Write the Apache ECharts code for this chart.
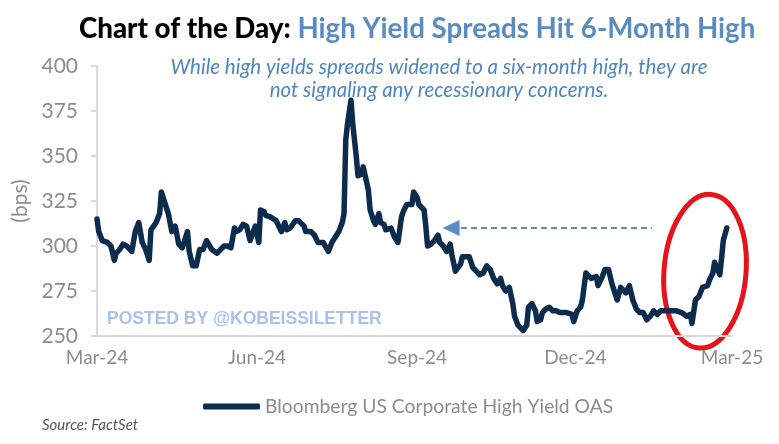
<!DOCTYPE html>
<html>
<head>
<meta charset="utf-8">
<script src="https://cdn.jsdelivr.net/npm/echarts@6/dist/echarts.min.js"></script>
<style>
  html, body { margin: 0; padding: 0; background: #fff; }
  #chart { width: 779px; height: 444px; }
</style>
</head>
<body>
<div id="chart"></div>
<script>
// days since 1 Mar 2024
const dayOffsets = [
  0, 1, 3, 6, 8, 10, 11, 13, 15, 17, 20, 21, 22, 24, 26, 28, 30, 31, 34, 36,
  37, 39, 41, 43, 45, 47, 49, 50, 52, 53, 55, 57, 59, 61, 63, 66, 69, 71, 73, 75,
  77, 79, 80, 82, 84, 86, 88, 89, 91, 93, 94, 96, 97, 100, 103, 106, 108, 109, 111, 114,
  116, 119, 120, 123, 125, 127, 128, 130, 133, 135, 137, 139, 141, 142, 143, 144, 146, 147, 149, 150,
  152, 153, 154, 156, 157, 159, 160, 162, 163, 165, 166, 169, 171, 173, 174, 175, 176, 178, 179, 181,
  182, 184, 185, 188, 189, 190, 192, 194, 196, 197, 199, 201, 203, 204, 206, 207, 209, 210, 212, 214,
  216, 218, 220, 222, 224, 226, 228, 230, 232, 233, 235, 237, 239, 240, 242, 243, 245, 247, 248, 250,
  252, 253, 255, 256, 258, 260, 262, 264, 266, 270, 273, 274, 276, 278, 279, 281, 282, 284, 287, 288,
  290, 292, 294, 296, 298, 299, 301, 302, 304, 306, 308, 310, 312, 314, 316, 318, 320, 322, 324, 325,
  327, 330, 333, 336, 339, 341, 342, 344, 346, 347, 348, 351, 352, 354, 355, 356, 358, 359, 360, 362
];

// Bloomberg US Corporate High Yield OAS, bps
const oasBps = [
  315, 308, 303, 302, 300, 292, 296, 298, 301, 300, 297, 297, 308, 313, 302, 298, 292, 309, 313, 318,
  330, 324, 318, 308, 311, 301, 299, 302, 308, 297, 289, 289, 298, 298, 303, 298, 296, 298, 300, 300,
  299, 310, 308, 309, 312, 311, 303, 304, 311, 302, 320, 319, 317, 316, 314, 308, 313, 309, 310, 314,
  314, 311, 308, 308, 306, 302, 303, 302, 297, 302, 305, 308, 313, 318, 359, 368, 381, 368, 350, 339,
  340, 344, 343, 331, 320, 314, 312, 318, 313, 312, 309, 310, 305, 302, 301, 316, 319, 323, 322, 323,
  330, 327, 323, 320, 311, 300, 301, 303, 306, 302, 300, 297, 301, 295, 286, 287, 290, 294, 294, 294,
  288, 286, 284, 285, 289, 287, 282, 279, 282, 278, 275, 277, 268, 261, 256, 255, 253, 256, 266, 268,
  264, 258, 259, 263, 265, 266, 264, 264, 263, 263, 262, 258, 264, 266, 270, 285, 284, 282, 283, 278,
  282, 287, 287, 279, 273, 270, 277, 276, 274, 278, 270, 265, 263, 263, 259, 261, 264, 262, 264, 265,
  264, 264, 264, 263, 261, 262, 257, 270, 272, 273, 277, 278, 281, 285, 291, 292, 284, 293, 303, 310
];

// month starts as days since 1 Mar 2024
const labelDays = [0, 92, 184, 275, 365];
const labelNames = ['Mar-24', 'Jun-24', 'Sep-24', 'Dec-24', 'Mar-25'];

const SERIES_NAME = 'Bloomberg US Corporate High Yield OAS';
const NAVY = '#0d2b4d';
const GREY = '#8c8c8c';
const BLUE = '#4f86c0';
const FONT = 'Lato, "Open Sans", sans-serif';

const seriesData = dayOffsets.map((d, i) => [d, oasBps[i]]);

const chart = echarts.init(document.getElementById('chart'));

chart.setOption({
  animation: false,
  textStyle: {fontFamily: FONT},
  title: [
    {
      text: '{a|Chart of the Day: }{b|High Yield Spreads Hit 6-Month High}',
      left: 74,
      top: 10,
      textStyle: {
        rich: {
          a: {fontFamily: FONT, fontWeight: 900, fontSize: 27.7, color: '#000'},
          b: {fontFamily: FONT, fontWeight: 'bold', fontSize: 27.7, color: '#5a8cc0'}
        }
      }
    },
    {
      text: 'While high yields spreads widened to a six-month high, they are\nnot signaling any recessionary concerns.',
      left: 434,
      top: 51,
      textAlign: 'center',
      textStyle: {
        fontFamily: FONT, fontStyle: 'italic', fontWeight: 'normal',
        fontSize: 20.5, lineHeight: 23, color: BLUE
      }
    },
    {
      text: 'Source: FactSet',
      left: 37,
      top: 413,
      textStyle: {
        fontFamily: FONT, fontStyle: 'italic', fontWeight: 'normal',
        fontSize: 15, color: '#555'
      }
    }
  ],
  grid: {left: 97, right: 47, top: 66, bottom: 108},
  legend: {
    left: 198,
    top: 392,
    itemWidth: 57,
    itemHeight: 6,
    data: [{name: SERIES_NAME, icon: 'roundRect'}],
    textStyle: {fontFamily: FONT, fontSize: 19.3, color: GREY}
  },
  xAxis: {
    type: 'value',
    min: 0,
    max: 365,
    axisLine: {lineStyle: {color: '#d9d9d9', width: 2}},
    axisTick: {show: false},
    splitLine: {show: false},
    axisLabel: {
      customValues: labelDays,
      formatter: (v) => labelNames[labelDays.indexOf(v)] || '',
      fontFamily: FONT,
      fontSize: 19,
      color: GREY,
      margin: 12
    }
  },
  yAxis: {
    type: 'value',
    min: 250,
    max: 400,
    interval: 25,
    name: '(bps)',
    nameLocation: 'middle',
    nameGap: 55,
    nameTextStyle: {fontFamily: FONT, fontSize: 21, color: GREY},
    axisLine: {show: true, lineStyle: {color: '#d9d9d9', width: 2}},
    axisTick: {show: true, length: 6, lineStyle: {color: '#d9d9d9', width: 2}},
    splitLine: {show: false},
    axisLabel: {fontFamily: FONT, fontSize: 21, color: GREY, margin: 19}
  },
  series: [
    {
      name: SERIES_NAME,
      type: 'line',
      data: seriesData,
      showSymbol: false,
      symbol: 'none',
      color: NAVY,
      lineStyle: {color: NAVY, width: 5.5, cap: 'round', join: 'round'},
      emphasis: {disabled: true},
      markLine: {
        silent: true,
        animation: false,
        label: {show: false},
        lineStyle: {color: '#5b8cc4', width: 2, type: [6, 4]},
        data: [
          [
            {coord: [203.5, 310], symbol: 'triangle', symbolSize: [16, 17]},
            {coord: [319, 310], symbol: 'none'}
          ]
        ]
      }
    }
  ]
});

// red ring round the latest move, placed in data space
const ringCenter = chart.convertToPixel({gridIndex: 0}, [349.5, 286]);

chart.setOption({
  graphic: [
    {
      type: 'text',
      left: 107,
      top: 310,
      silent: true,
      style: {
        text: 'POSTED BY @KOBEISSILETTER',
        fontFamily: '"Liberation Sans", Arial, sans-serif',
        fontWeight: 'bold',
        fontSize: 17.5,
        fill: '#a9c0f0'
      }
    },
    {
      type: 'ellipse',
      x: ringCenter[0],
      y: ringCenter[1],
      rotation: -0.08,
      silent: true,
      shape: {cx: 0, cy: 0, rx: 41, ry: 77},
      style: {fill: 'none', stroke: '#e3141c', lineWidth: 5}
    }
  ]
});
</script>
</body>
</html>
